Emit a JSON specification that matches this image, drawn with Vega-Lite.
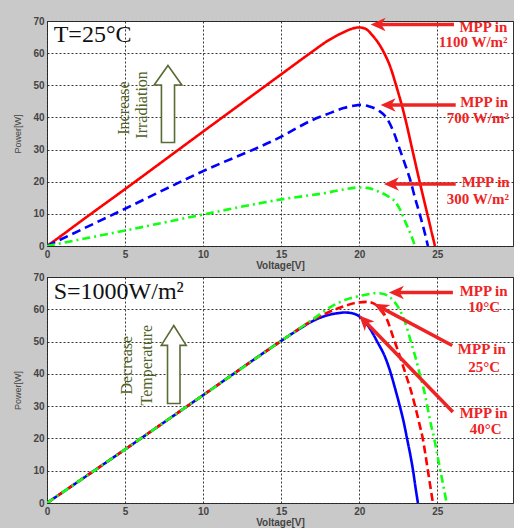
{
  "$schema": "https://vega.github.io/schema/vega-lite/v6.json",
  "background": "#c9c9c9",
  "padding": {"left": 13, "top": 15, "right": 0, "bottom": 0},
  "spacing": 0,
  "resolve": {"scale": {"color": "independent", "strokeDash": "independent"}},
  "config": {
    "view": {"fill": "white", "stroke": "#333333", "strokeWidth": 1},
    "axis": {
      "grid": true, "gridColor": "#222222", "gridDash": [2, 2], "gridWidth": 1, "gridOpacity": 0.9,
      "domain": false, "ticks": false,
      "labelFont": "Liberation Sans", "labelFontSize": 10, "labelFontWeight": "bold", "labelColor": "#444444",
      "titleFont": "Liberation Sans", "titleColor": "#444444"
    },
    "axisX": {"labelPadding": 3, "titleFontSize": 10, "titleFontWeight": "bold", "titlePadding": 1, "labelFlush": false},
    "axisY": {"labelPadding": 3, "titleFontSize": 9, "titleFontWeight": "normal", "titlePadding": 10}
  },
  "datasets": {
    "top_curves": [
      {"S": "1100", "V": 0, "P": 0}, {"S": "1100", "V": 1, "P": 3.5}, {"S": "1100", "V": 2, "P": 7.1}, {"S": "1100", "V": 5, "P": 17.7},
      {"S": "1100", "V": 10, "P": 35.6}, {"S": "1100", "V": 15, "P": 53.4}, {"S": "1100", "V": 17, "P": 60.5}, {"S": "1100", "V": 18, "P": 63.9},
      {"S": "1100", "V": 19, "P": 66.5}, {"S": "1100", "V": 19.6, "P": 67.7}, {"S": "1100", "V": 20, "P": 68}, {"S": "1100", "V": 20.4, "P": 67.6},
      {"S": "1100", "V": 20.83, "P": 65.6}, {"S": "1100", "V": 21.26, "P": 62.9}, {"S": "1100", "V": 21.6, "P": 60}, {"S": "1100", "V": 22, "P": 55.6},
      {"S": "1100", "V": 22.33, "P": 50.5}, {"S": "1100", "V": 22.93, "P": 40}, {"S": "1100", "V": 23.4, "P": 30}, {"S": "1100", "V": 23.87, "P": 20},
      {"S": "1100", "V": 24.36, "P": 10}, {"S": "1100", "V": 24.85, "P": 0},
      {"S": "700", "V": 0, "P": 0}, {"S": "700", "V": 5, "P": 11.6}, {"S": "700", "V": 10, "P": 23.3}, {"S": "700", "V": 15, "P": 34},
      {"S": "700", "V": 17, "P": 39.2}, {"S": "700", "V": 18, "P": 41.1}, {"S": "700", "V": 19, "P": 42.9}, {"S": "700", "V": 19.6, "P": 43.6},
      {"S": "700", "V": 20.1, "P": 43.9}, {"S": "700", "V": 20.6, "P": 43.5}, {"S": "700", "V": 21.26, "P": 42.1}, {"S": "700", "V": 21.73, "P": 40},
      {"S": "700", "V": 22.2, "P": 35.5}, {"S": "700", "V": 22.6, "P": 30}, {"S": "700", "V": 23.0, "P": 24.5}, {"S": "700", "V": 23.3, "P": 20},
      {"S": "700", "V": 23.57, "P": 15}, {"S": "700", "V": 23.87, "P": 10}, {"S": "700", "V": 24.15, "P": 5}, {"S": "700", "V": 24.4, "P": 0},
      {"S": "300", "V": 0, "P": 0}, {"S": "300", "V": 5, "P": 4.8}, {"S": "300", "V": 10, "P": 9.8}, {"S": "300", "V": 15, "P": 14.5},
      {"S": "300", "V": 18.06, "P": 16.7}, {"S": "300", "V": 19, "P": 17.6}, {"S": "300", "V": 20, "P": 18.2}, {"S": "300", "V": 20.6, "P": 18},
      {"S": "300", "V": 21.26, "P": 16.9}, {"S": "300", "V": 21.8, "P": 15.6}, {"S": "300", "V": 22.33, "P": 13.6}, {"S": "300", "V": 22.65, "P": 11},
      {"S": "300", "V": 22.97, "P": 7.3}, {"S": "300", "V": 23.3, "P": 3.7}, {"S": "300", "V": 23.57, "P": 0}
    ],
    "bottom_curves": [
      {"T": "40", "V": 0, "P": 0}, {"T": "40", "V": 5, "P": 16.6}, {"T": "40", "V": 10, "P": 33.4}, {"T": "40", "V": 15, "P": 50.2},
      {"T": "40", "V": 16, "P": 53.4}, {"T": "40", "V": 17, "P": 56.3}, {"T": "40", "V": 17.5, "P": 57.4}, {"T": "40", "V": 18, "P": 58.2},
      {"T": "40", "V": 18.5, "P": 58.7}, {"T": "40", "V": 19.1, "P": 59}, {"T": "40", "V": 19.6, "P": 58.7}, {"T": "40", "V": 20, "P": 57.8},
      {"T": "40", "V": 20.62, "P": 54.5}, {"T": "40", "V": 21.15, "P": 50}, {"T": "40", "V": 21.69, "P": 44.8}, {"T": "40", "V": 22.0, "P": 40.5},
      {"T": "40", "V": 22.33, "P": 34.9}, {"T": "40", "V": 22.6, "P": 30}, {"T": "40", "V": 22.87, "P": 24.6}, {"T": "40", "V": 23.04, "P": 20.5},
      {"T": "40", "V": 23.3, "P": 14.2}, {"T": "40", "V": 23.45, "P": 10}, {"T": "40", "V": 23.6, "P": 5}, {"T": "40", "V": 23.76, "P": 0},
      {"T": "25", "V": 0, "P": 0}, {"T": "25", "V": 5, "P": 16.6}, {"T": "25", "V": 10, "P": 33.4}, {"T": "25", "V": 15, "P": 50.2},
      {"T": "25", "V": 16, "P": 53.5}, {"T": "25", "V": 17, "P": 56.6}, {"T": "25", "V": 18, "P": 59}, {"T": "25", "V": 19, "P": 60.9},
      {"T": "25", "V": 19.8, "P": 62}, {"T": "25", "V": 20.5, "P": 62.3}, {"T": "25", "V": 21.26, "P": 60.7}, {"T": "25", "V": 21.8, "P": 56.6},
      {"T": "25", "V": 22.2, "P": 51}, {"T": "25", "V": 22.6, "P": 45.5}, {"T": "25", "V": 22.97, "P": 40}, {"T": "25", "V": 23.3, "P": 35},
      {"T": "25", "V": 23.58, "P": 30}, {"T": "25", "V": 23.85, "P": 24.6}, {"T": "25", "V": 24.07, "P": 20}, {"T": "25", "V": 24.24, "P": 15},
      {"T": "25", "V": 24.4, "P": 10}, {"T": "25", "V": 24.56, "P": 5}, {"T": "25", "V": 24.72, "P": 0},
      {"T": "10", "V": 0, "P": 0}, {"T": "10", "V": 5, "P": 16.6}, {"T": "10", "V": 10, "P": 33.4}, {"T": "10", "V": 15, "P": 50.2},
      {"T": "10", "V": 16, "P": 53.5}, {"T": "10", "V": 17, "P": 56.8}, {"T": "10", "V": 18.27, "P": 61}, {"T": "10", "V": 19.34, "P": 63.3},
      {"T": "10", "V": 20, "P": 64.1}, {"T": "10", "V": 20.5, "P": 64.6}, {"T": "10", "V": 21.05, "P": 65}, {"T": "10", "V": 21.4, "P": 64.9},
      {"T": "10", "V": 21.8, "P": 64.3}, {"T": "10", "V": 22.2, "P": 62.6}, {"T": "10", "V": 22.55, "P": 60.2}, {"T": "10", "V": 22.97, "P": 55.6},
      {"T": "10", "V": 23.3, "P": 50.1}, {"T": "10", "V": 23.6, "P": 45.2}, {"T": "10", "V": 23.87, "P": 40}, {"T": "10", "V": 24.15, "P": 34.9},
      {"T": "10", "V": 24.36, "P": 30}, {"T": "10", "V": 24.58, "P": 24.6}, {"T": "10", "V": 24.79, "P": 20.3}, {"T": "10", "V": 25.0, "P": 15},
      {"T": "10", "V": 25.2, "P": 10}, {"T": "10", "V": 25.4, "P": 5}, {"T": "10", "V": 25.6, "P": 0}
    ],
    "top_arrows": [
      {"id": "a1100", "V": 21.13, "P": 68.9, "V2": 26.07, "P2": 68.9},
      {"id": "a700", "V": 21.77, "P": 43.9, "V2": 26.18, "P2": 43.9},
      {"id": "a300", "V": 21.98, "P": 19.3, "V2": 26.18, "P2": 19.3}
    ],
    "top_heads": [
      {"id": "a1100", "V": 20.73, "P": 68.9},
      {"id": "a700", "V": 21.37, "P": 43.9},
      {"id": "a300", "V": 21.58, "P": 19.3}
    ],
    "bottom_arrows": [
      {"id": "b10", "V": 22.3, "P": 65.2, "V2": 26.0, "P2": 65.2},
      {"id": "b25", "V": 21.28, "P": 60.83, "V2": 25.96, "P2": 48.8},
      {"id": "b40", "V": 20.27, "P": 56.77, "V2": 26.0, "P2": 28.2}
    ],
    "bottom_heads": [
      {"id": "b10", "V": 21.9, "P": 65.2},
      {"id": "b25", "V": 20.94, "P": 61.7},
      {"id": "b40", "V": 20.0, "P": 58.1}
    ],
    "top_mpp": [
      {"t": "MPP in", "V": 27.95, "P": 66.6}, {"t": "1100 W/m²", "V": 27.3, "P": 61.8},
      {"t": "MPP in", "V": 28.0, "P": 43.2}, {"t": "700 W/m²", "V": 27.6, "P": 38.4},
      {"t": "MPP in", "V": 28.1, "P": 18.3}, {"t": "300 W/m²", "V": 27.6, "P": 13.0}
    ],
    "bottom_mpp": [
      {"t": "MPP in", "V": 27.97, "P": 64.1}, {"t": "10°C", "V": 28.0, "P": 59.2},
      {"t": "MPP in", "V": 27.85, "P": 46.2}, {"t": "25°C", "V": 28.0, "P": 40.6},
      {"t": "MPP in", "V": 27.97, "P": 26.2}, {"t": "40°C", "V": 28.1, "P": 21.4}
    ],
    "top_title": [{"t": "T=25°C", "V": 0.43, "P": 63.6}],
    "bottom_title": [{"t": "S=1000W/m²", "V": 0.43, "P": 63.3}],
    "top_note": [{"t": "Increase", "V": 4.92, "P": 42.9}, {"t": "Irradiation", "V": 6.07, "P": 43.9}],
    "bottom_note": [{"t": "Decrease", "V": 5.13, "P": 42.7}, {"t": "Temperature", "V": 6.41, "P": 42.7}],
    "top_big_arrow": [{"V": 7.75, "P": 44.2}],
    "bottom_big_arrow": [{"V": 8.12, "P": 42.9}]
  },
  "vconcat": [
    {
      "width": 466,
      "height": 225,
      "encoding": {
        "x": {"field": "V", "type": "quantitative", "scale": {"domain": [0, 29.85], "nice": false, "zero": false},
              "axis": {"values": [0, 5, 10, 15, 20, 25], "title": "Voltage[V]"}},
        "y": {"field": "P", "type": "quantitative", "scale": {"domain": [0, 70], "nice": false},
              "axis": {"values": [0, 10, 20, 30, 40, 50, 60, 70], "title": "Power[W]"}}
      },
      "layer": [
        {
          "data": {"name": "top_curves"},
          "mark": {"type": "line", "strokeWidth": 2.6, "interpolate": "monotone", "clip": true},
          "encoding": {
            "color": {"field": "S", "type": "nominal", "scale": {"domain": ["1100", "700", "300"], "range": ["#ff0000", "#0000ff", "#11ff11"]}, "legend": null},
            "strokeDash": {"field": "S", "type": "nominal", "scale": {"domain": ["1100", "700", "300"], "range": [[1, 0], [9, 5], [8, 4, 2, 4]]}, "legend": null}
          }
        },
        {
          "data": {"name": "top_big_arrow"},
          "mark": {"type": "point", "shape": "M0,-1 L0.36,-0.49 L0.17,-0.49 L0.17,1 L-0.17,1 L-0.17,-0.49 L-0.36,-0.49 Z", "size": 5929, "filled": true, "fill": "white", "fillOpacity": 1, "stroke": "#5a6b35", "strokeWidth": 1.6, "opacity": 1}
        },
        {
          "data": {"name": "top_note"},
          "mark": {"type": "text", "angle": 270, "align": "center", "baseline": "middle", "font": "Liberation Serif", "fontSize": 16, "color": "#4f6228"},
          "encoding": {"text": {"field": "t"}}
        },
        {
          "data": {"name": "top_title"},
          "mark": {"type": "text", "align": "left", "baseline": "alphabetic", "font": "Liberation Serif", "fontSize": 24, "color": "#111111"},
          "encoding": {"text": {"field": "t"}}
        },
        {
          "data": {"name": "top_arrows"},
          "mark": {"type": "rule", "strokeWidth": 3.5, "color": "#ee2424", "strokeCap": "butt"},
          "encoding": {"x2": {"field": "V2"}, "y2": {"field": "P2"}}
        },
        {
          "data": {"name": "top_heads"},
          "mark": {"type": "point", "shape": "M0,0 L1,-0.45 L0.72,0 L1,0.45 Z", "size": 900, "filled": true, "color": "#ee2424", "opacity": 1, "angle": 0}
        },
        {
          "data": {"name": "top_mpp"},
          "mark": {"type": "text", "align": "center", "baseline": "alphabetic", "font": "Liberation Serif", "fontSize": 15, "fontWeight": "bold", "color": "#ee2424"},
          "encoding": {"text": {"field": "t"}}
        }
      ]
    },
    {
      "width": 466,
      "height": 226,
      "encoding": {
        "x": {"field": "V", "type": "quantitative", "scale": {"domain": [0, 29.85], "nice": false, "zero": false},
              "axis": {"values": [0, 5, 10, 15, 20, 25], "title": "Voltage[V]"}},
        "y": {"field": "P", "type": "quantitative", "scale": {"domain": [0, 70], "nice": false},
              "axis": {"values": [0, 10, 20, 30, 40, 50, 60, 70], "title": "Power[W]"}}
      },
      "layer": [
        {
          "data": {"name": "bottom_curves"},
          "mark": {"type": "line", "strokeWidth": 2.6, "interpolate": "monotone", "clip": true},
          "encoding": {
            "color": {"field": "T", "type": "nominal", "scale": {"domain": ["40", "25", "10"], "range": ["#0000ff", "#ff0000", "#11ff11"]}, "legend": null},
            "strokeDash": {"field": "T", "type": "nominal", "scale": {"domain": ["40", "25", "10"], "range": [[1, 0], [8, 4], [8, 4, 2, 4]]}, "legend": null}
          }
        },
        {
          "data": {"name": "bottom_big_arrow"},
          "mark": {"type": "point", "shape": "M0,-1 L0.32,-0.49 L0.16,-0.49 L0.16,1 L-0.16,1 L-0.16,-0.49 L-0.32,-0.49 Z", "size": 6084, "filled": true, "fill": "white", "fillOpacity": 1, "stroke": "#5a6b35", "strokeWidth": 1.6, "opacity": 1}
        },
        {
          "data": {"name": "bottom_note"},
          "mark": {"type": "text", "angle": 270, "align": "center", "baseline": "middle", "font": "Liberation Serif", "fontSize": 16, "color": "#4f6228"},
          "encoding": {"text": {"field": "t"}}
        },
        {
          "data": {"name": "bottom_title"},
          "mark": {"type": "text", "align": "left", "baseline": "alphabetic", "font": "Liberation Serif", "fontSize": 24, "color": "#111111"},
          "encoding": {"text": {"field": "t"}}
        },
        {
          "data": {"name": "bottom_arrows"},
          "mark": {"type": "rule", "strokeWidth": 3.5, "color": "#ee2424", "strokeCap": "butt"},
          "encoding": {"x2": {"field": "V2"}, "y2": {"field": "P2"}}
        },
        {
          "data": {"name": "bottom_heads"},
          "transform": [{"filter": "datum.id == 'b10'"}],
          "mark": {"type": "point", "shape": "M0,0 L1,-0.45 L0.72,0 L1,0.45 Z", "size": 900, "filled": true, "color": "#ee2424", "opacity": 1, "angle": 0}
        },
        {
          "data": {"name": "bottom_heads"},
          "transform": [{"filter": "datum.id == 'b25'"}],
          "mark": {"type": "point", "shape": "M0,0 L1,-0.45 L0.72,0 L1,0.45 Z", "size": 900, "filled": true, "color": "#ee2424", "opacity": 1, "angle": 28}
        },
        {
          "data": {"name": "bottom_heads"},
          "transform": [{"filter": "datum.id == 'b40'"}],
          "mark": {"type": "point", "shape": "M0,0 L1,-0.45 L0.72,0 L1,0.45 Z", "size": 900, "filled": true, "color": "#ee2424", "opacity": 1, "angle": 46}
        },
        {
          "data": {"name": "bottom_mpp"},
          "mark": {"type": "text", "align": "center", "baseline": "alphabetic", "font": "Liberation Serif", "fontSize": 15, "fontWeight": "bold", "color": "#ee2424"},
          "encoding": {"text": {"field": "t"}}
        }
      ]
    }
  ]
}
